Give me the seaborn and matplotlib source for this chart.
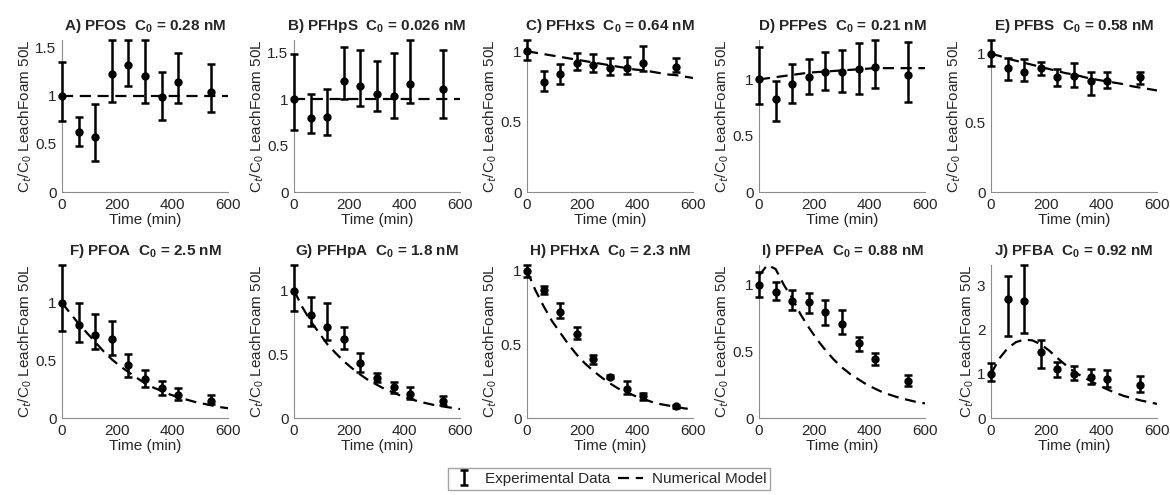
import numpy as np
import pandas as pd
import matplotlib
matplotlib.use("Agg")
import matplotlib.pyplot as plt
from matplotlib.lines import Line2D
import seaborn as sns

sns.set_style("white")
plt.rcParams['font.family'] = ['Liberation Sans', 'DejaVu Sans']
plt.rcParams['mathtext.fontset'] = 'custom'
plt.rcParams['mathtext.rm'] = 'Liberation Sans'
plt.rcParams['mathtext.bf'] = 'Liberation Sans:bold'

# sampling times of the experiment (min)
times = [0, 60, 120, 180, 240, 300, 360, 420, 540]
# model output times (min)
model_t = [0, 30, 60, 90, 120, 150, 180, 210, 240, 270, 300,
           330, 360, 390, 420, 450, 480, 510, 540, 570, 600]

panels = ["A) PFOS", "B) PFHpS", "C) PFHxS", "D) PFPeS", "E) PFBS",
          "F) PFOA", "G) PFHpA", "H) PFHxA", "I) PFPeA", "J) PFBA"]
c0 = ["0.28", "0.026", "0.64", "0.21", "0.58",
      "2.5", "1.8", "2.3", "0.88", "0.92"]

# measured Ct/C0, lower and upper error limits
mean_a = [1.00, 0.62, 0.57, 1.23, 1.32, 1.21, 0.99, 1.14, 1.04]
low_a = [0.74, 0.48, 0.32, 0.94, 1.10, 0.92, 0.75, 0.93, 0.83]
up_a = [1.35, 0.78, 0.91, 1.58, 1.58, 1.58, 1.25, 1.44, 1.33]

mean_b = [1.00, 0.80, 0.81, 1.20, 1.14, 1.06, 1.04, 1.17, 1.11]
low_b = [0.67, 0.64, 0.62, 1.00, 0.93, 0.87, 0.80, 0.96, 0.80]
up_b = [1.49, 1.06, 1.11, 1.56, 1.53, 1.41, 1.50, 1.64, 1.53]

mean_c = [1.00, 0.78, 0.84, 0.92, 0.90, 0.88, 0.88, 0.92, 0.89]
low_c = [0.94, 0.72, 0.77, 0.87, 0.85, 0.83, 0.84, 0.86, 0.85]
up_c = [1.08, 0.86, 0.91, 0.99, 0.98, 0.95, 0.96, 1.04, 0.95]

mean_d = [1.00, 0.83, 0.96, 1.02, 1.07, 1.07, 1.09, 1.11, 1.04]
low_d = [0.78, 0.63, 0.79, 0.87, 0.91, 0.89, 0.87, 0.92, 0.80]
up_d = [1.29, 0.99, 1.14, 1.18, 1.24, 1.26, 1.32, 1.35, 1.33]

mean_e = [1.00, 0.90, 0.87, 0.90, 0.83, 0.84, 0.80, 0.80, 0.83]
low_e = [0.91, 0.81, 0.80, 0.85, 0.77, 0.76, 0.70, 0.75, 0.78]
up_e = [1.10, 0.97, 0.96, 0.94, 0.89, 0.93, 0.87, 0.87, 0.87]

mean_f = [1.00, 0.81, 0.72, 0.69, 0.46, 0.34, 0.26, 0.20, 0.15]
low_f = [0.76, 0.66, 0.60, 0.55, 0.36, 0.27, 0.20, 0.16, 0.12]
up_f = [1.33, 1.00, 0.90, 0.84, 0.56, 0.42, 0.32, 0.26, 0.20]

mean_g = [1.00, 0.81, 0.71, 0.62, 0.43, 0.31, 0.24, 0.19, 0.13]
low_g = [0.84, 0.72, 0.61, 0.54, 0.36, 0.28, 0.20, 0.15, 0.10]
up_g = [1.20, 0.95, 0.90, 0.71, 0.51, 0.35, 0.28, 0.24, 0.17]

mean_h = [1.00, 0.87, 0.72, 0.57, 0.40, 0.28, 0.20, 0.15, 0.08]
low_h = [0.96, 0.84, 0.68, 0.54, 0.37, 0.27, 0.16, 0.12, 0.07]
up_h = [1.04, 0.90, 0.78, 0.62, 0.43, 0.29, 0.25, 0.17, 0.09]

mean_i = [1.00, 0.95, 0.88, 0.87, 0.80, 0.71, 0.56, 0.44, 0.28]
low_i = [0.91, 0.89, 0.81, 0.79, 0.70, 0.63, 0.50, 0.40, 0.24]
up_i = [1.10, 1.02, 0.96, 0.94, 0.89, 0.81, 0.61, 0.49, 0.32]

mean_j = [1.00, 2.70, 2.65, 1.50, 1.10, 1.00, 0.93, 0.88, 0.75]
low_j = [0.83, 1.87, 1.93, 1.13, 0.93, 0.87, 0.77, 0.71, 0.60]
up_j = [1.25, 3.22, 3.47, 1.77, 1.27, 1.18, 1.12, 1.08, 0.95]

# numerical model curves
model_a = [1.0] * 21
model_b = [1.0] * 21
model_c = [1.00, 0.99, 0.98, 0.97, 0.96, 0.95, 0.94, 0.93, 0.92, 0.91, 0.90,
           0.89, 0.88, 0.87, 0.865, 0.855, 0.845, 0.835, 0.83, 0.82, 0.81]
model_d = [1.00, 1.01, 1.02, 1.03, 1.04, 1.05, 1.06, 1.065, 1.07, 1.075, 1.08,
           1.085, 1.09, 1.095, 1.10, 1.10, 1.10, 1.10, 1.10, 1.10, 1.10]
model_e = [1.00, 0.985, 0.965, 0.95, 0.935, 0.92, 0.905, 0.89, 0.875, 0.86, 0.85,
           0.835, 0.82, 0.81, 0.80, 0.79, 0.78, 0.765, 0.755, 0.745, 0.735]
model_f = [1.00, 0.91, 0.82, 0.74, 0.66, 0.58, 0.51, 0.45, 0.40, 0.35, 0.30,
           0.265, 0.235, 0.205, 0.18, 0.16, 0.14, 0.125, 0.11, 0.095, 0.085]
model_g = [1.00, 0.87, 0.76, 0.67, 0.58, 0.51, 0.445, 0.39, 0.34, 0.295, 0.26,
           0.225, 0.20, 0.17, 0.15, 0.13, 0.115, 0.10, 0.09, 0.08, 0.07]
model_h = [1.00, 0.87, 0.76, 0.66, 0.58, 0.50, 0.43, 0.37, 0.32, 0.275, 0.235,
           0.20, 0.175, 0.15, 0.13, 0.11, 0.095, 0.085, 0.075, 0.065, 0.06]
model_i = [1.07, 1.15, 1.12, 1.00, 0.90, 0.78, 0.68, 0.59, 0.51, 0.44, 0.38,
           0.33, 0.29, 0.25, 0.22, 0.19, 0.17, 0.15, 0.135, 0.12, 0.11]
model_j = [1.00, 1.35, 1.58, 1.72, 1.78, 1.76, 1.67, 1.53, 1.36, 1.20, 1.05,
           0.94, 0.84, 0.74, 0.65, 0.57, 0.50, 0.45, 0.40, 0.36, 0.32]

means = [mean_a, mean_b, mean_c, mean_d, mean_e, mean_f, mean_g, mean_h, mean_i, mean_j]
lows = [low_a, low_b, low_c, low_d, low_e, low_f, low_g, low_h, low_i, low_j]
ups = [up_a, up_b, up_c, up_d, up_e, up_f, up_g, up_h, up_i, up_j]
models = [model_a, model_b, model_c, model_d, model_e, model_f, model_g, model_h, model_i, model_j]
yticks = [[0, 0.5, 1, 1.5]] * 2 + [[0, 0.5, 1]] * 7 + [[0, 1, 2, 3]]

W, H = 1170, 495
fig = plt.figure(figsize=(W / 100, H / 100), dpi=100)
lefts = [62, 294, 527, 759, 991]
rows = [(40, 192), (265, 418)]
axw = 166

for k in range(10):
    r, c = divmod(k, 5)
    top, bot = rows[r]
    ax = fig.add_axes([lefts[c] / W, 1 - bot / H, axw / W, (bot - top) / H])
    m = np.array(means[k])
    err = [m - np.array(lows[k]), np.array(ups[k]) - m]
    df = pd.DataFrame({"t": model_t, "v": models[k]})
    sns.lineplot(data=df, x="t", y="v", ax=ax, color="black", lw=1.6,
                 dashes=False, linestyle=(0, (5, 3)), zorder=2)
    ax.errorbar(times, m, yerr=err, fmt="o", color="black", ms=5,
                elinewidth=1.8, capsize=3, capthick=1.8, clip_on=False, zorder=3)
    ax.set_xlim(0, 600)
    ax.set_ylim(0, max(max(ups[k]), max(models[k])))
    ax.set_xticks([0, 200, 400, 600])
    ax.set_yticks(yticks[k])
    ax.set_yticklabels(["%g" % v for v in yticks[k]])
    ax.tick_params(direction="in", length=3, labelsize=11, colors="#262626",
                   pad=4, width=0.6)
    for s in ["top", "right"]:
        ax.spines[s].set_visible(False)
    for s in ["left", "bottom"]:
        ax.spines[s].set_color("#8c8c8c")
        ax.spines[s].set_linewidth(0.8)
    ax.set_xlabel("Time (min)", fontsize=11, color="#262626", labelpad=1)
    ax.set_ylabel(r"C$_t$/C$_0$ LeachFoam 50L", fontsize=11, color="#262626", labelpad=1)
    ax.set_title(panels[k] + r"  C$_\mathbf{0}$ = " + c0[k] + " nM",
                 fontsize=11, fontweight="bold", pad=7)
    if k == 0:
        h1 = ax.errorbar([np.nan], [np.nan], yerr=[0.1], fmt="none", ecolor="black",
                         elinewidth=1.8, capsize=3, capthick=1.8)

h2 = Line2D([], [], color="black", lw=1.6, linestyle=(0, (5, 3)))
fig.legend([h1, h2], ["Experimental Data", "Numerical Model"], ncol=2,
           loc="lower center", bbox_to_anchor=(609 / W, -0.005), frameon=True,
           fontsize=11, fancybox=False, edgecolor="#8c8c8c", handlelength=1.6,
           handletextpad=0.6, columnspacing=0.5, borderpad=0.25)

fig.savefig("out.png", dpi=100)
